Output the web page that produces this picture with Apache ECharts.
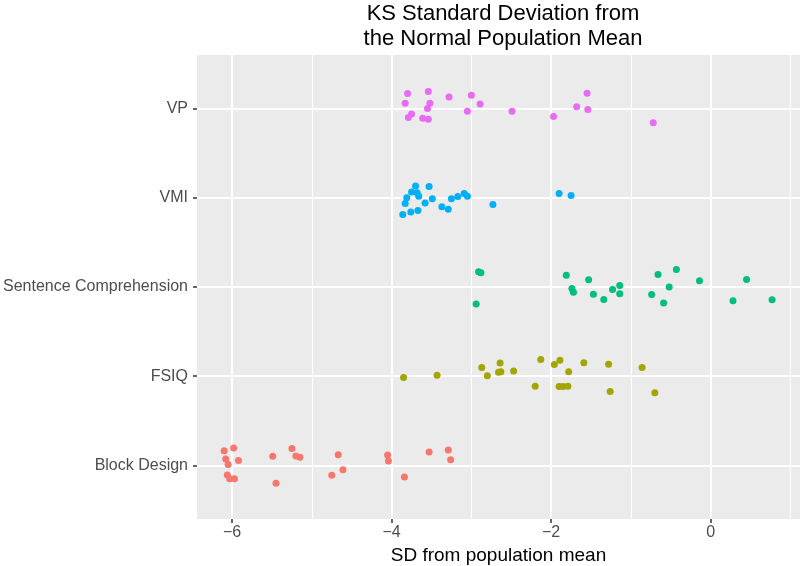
<!DOCTYPE html>
<html>
<head>
<meta charset="utf-8">
<script src="https://cdn.jsdelivr.net/npm/echarts@6/dist/echarts.min.js"></script>
<style>
  html, body { margin: 0; padding: 0; background: #fff; }
  #main { width: 800px; height: 566px; }
</style>
</head>
<body>
<div id="main"></div>
<script>
// categories bottom to top (y = 1..5)
var categories = ['Block Design', 'FSIQ', 'Sentence Comprehension', 'VMI', 'VP'];
var colors = ['#F8766D', '#A3A500', '#00BF7D', '#00B0F6', '#E76BF3'];
var xTicks = [-6, -4, -2, 0];
var xMinor = [-5, -3, -1, 1];

// SD values and jittered y positions
var blockX = [-6.10, -5.98, -6.08, -6.05, -5.92, -6.06, -6.03, -5.97, -5.49, -5.45, -5.25,
  -5.20, -5.15, -4.67, -4.61, -4.75, -4.05, -4.04, -3.84, -3.53, -3.29, -3.26];
var blockY = [1.165, 1.195, 1.072, 1.012, 1.057, 0.892, 0.851, 0.851, 1.102, 0.80, 1.191,
  1.105, 1.091, 1.12, 0.952, 0.889, 1.116, 1.049, 0.87, 1.15, 1.172, 1.064];

var fsiqX = [-3.85, -3.43, -2.87, -2.80, -2.64, -2.66, -2.63, -2.47, -2.13, -1.96, -1.89,
  -1.78, -2.20, -1.90, -1.85, -1.79, -1.59, -1.28, -1.26, -0.86, -0.70];
var fsiqY = [1.987, 2.012, 2.099, 2.004, 2.147, 2.046, 2.049, 2.06, 2.188, 2.132, 2.18,
  2.049, 1.889, 1.886, 1.886, 1.889, 2.15, 2.135, 1.83, 2.099, 1.814];

var sentX = [-2.91, -2.88, -2.94, -1.81, -1.53, -1.74, -1.72, -1.47, -1.34, -1.23, -1.14,
  -1.14, -0.66, -0.43, -0.14, -0.52, -0.74, -0.59, 0.45, 0.28, 0.77];
var sentY = [3.17, 3.159, 2.809, 3.133, 3.081, 2.984, 2.94, 2.92, 2.861, 2.973, 3.018,
  2.924, 3.141, 3.197, 3.069, 2.999, 2.917, 2.82, 3.085, 2.845, 2.857];

var vmiX = [-3.70, -3.53, -3.75, -3.68, -3.66, -3.81, -3.83, -3.58, -3.49, -3.86, -3.76,
  -3.67, -3.37, -3.29, -3.25, -3.17, -3.09, -3.05, -2.73, -1.90, -1.75];
var vmiY = [4.133, 4.127, 4.066, 4.055, 4.018, 4.00, 3.936, 3.94, 3.988, 3.813, 3.84,
  3.858, 3.90, 3.872, 3.988, 4.015, 4.048, 4.018, 3.925, 4.048, 4.026];

var vpX = [-3.80, -3.54, -3.83, -3.52, -3.55, -3.28, -3.00, -2.89, -3.05, -3.79, -3.75,
  -3.61, -3.54, -2.49, -1.97, -1.68, -1.55, -1.54, -0.72];
var vpY = [5.168, 5.19, 5.06, 5.06, 5.00, 5.13, 5.15, 5.05, 4.97, 4.90, 4.94,
  4.89, 4.88, 4.97, 4.91, 5.02, 5.17, 4.99, 4.84];

var xs = [blockX, fsiqX, sentX, vmiX, vpX];
var ys = [blockY, fsiqY, sentY, vmiY, vpY];

function pairs(a, b) {
  return a.map(function (v, i) { return [v, b[i]]; });
}

// ggplot style panel grid, drawn under the points
var gridLines = [];
xTicks.forEach(function (v) {
  gridLines.push({ xAxis: v, lineStyle: { color: '#fff', width: 2, type: 'solid' } });
});
xMinor.forEach(function (v) {
  gridLines.push({ xAxis: v, lineStyle: { color: '#fff', width: 1, type: 'solid' } });
});
[1, 2, 3, 4, 5].forEach(function (v) {
  gridLines.push({ yAxis: v, lineStyle: { color: '#fff', width: 2, type: 'solid' } });
});

var series = [{
  type: 'scatter',
  data: [],
  z: 1,
  markLine: {
    silent: true,
    z: 1,
    symbol: 'none',
    label: { show: false },
    animation: false,
    data: gridLines
  }
}];
categories.forEach(function (c, i) {
  series.push({
    name: c,
    type: 'scatter',
    z: 3,
    symbolSize: 7,
    itemStyle: { color: colors[i], opacity: 1 },
    data: pairs(xs[i], ys[i])
  });
});

var myChart = echarts.init(document.getElementById('main'));
var option = {
  animation: false,
  textStyle: { fontFamily: 'Liberation Sans' },
  title: {
    text: 'KS Standard Deviation from\nthe Normal Population Mean',
    left: 498,
    top: -4,
    textAlign: 'center',
    textStyle: { fontSize: 22, fontWeight: 'normal', color: '#000', lineHeight: 25 }
  },
  grid: {
    left: 197, right: 0, top: 55, bottom: 47,
    outerBoundsMode: 'none',
    containLabel: false,
    show: true, backgroundColor: '#EBEBEB', borderWidth: 0
  },
  xAxis: {
    type: 'value',
    min: -6.44, max: 1.12,
    name: 'SD from population mean',
    nameLocation: 'middle',
    nameGap: 26,
    nameTextStyle: { fontSize: 19, color: '#000' },
    axisLine: { show: false, onZero: false },
    splitLine: { show: false },
    axisTick: { show: true, customValues: xTicks, length: 4, lineStyle: { color: '#333', width: 1.5 } },
    axisLabel: { customValues: xTicks, fontSize: 16, color: '#4D4D4D', margin: 6,
      formatter: function (v) { return String(v).replace('-', '\u2212'); } }
  },
  yAxis: {
    type: 'value',
    min: 0.4, max: 5.6,
    axisLine: { show: false, onZero: false },
    splitLine: { show: false },
    axisTick: { show: true, customValues: [1, 2, 3, 4, 5], length: 4, lineStyle: { color: '#333', width: 1.5 } },
    axisLabel: { customValues: [1, 2, 3, 4, 5], fontSize: 16, color: '#4D4D4D', margin: 9,
      formatter: function (v) { return categories[Math.round(v) - 1] || ''; } }
  },
  series: series
};
myChart.setOption(option);
</script>
</body>
</html>
